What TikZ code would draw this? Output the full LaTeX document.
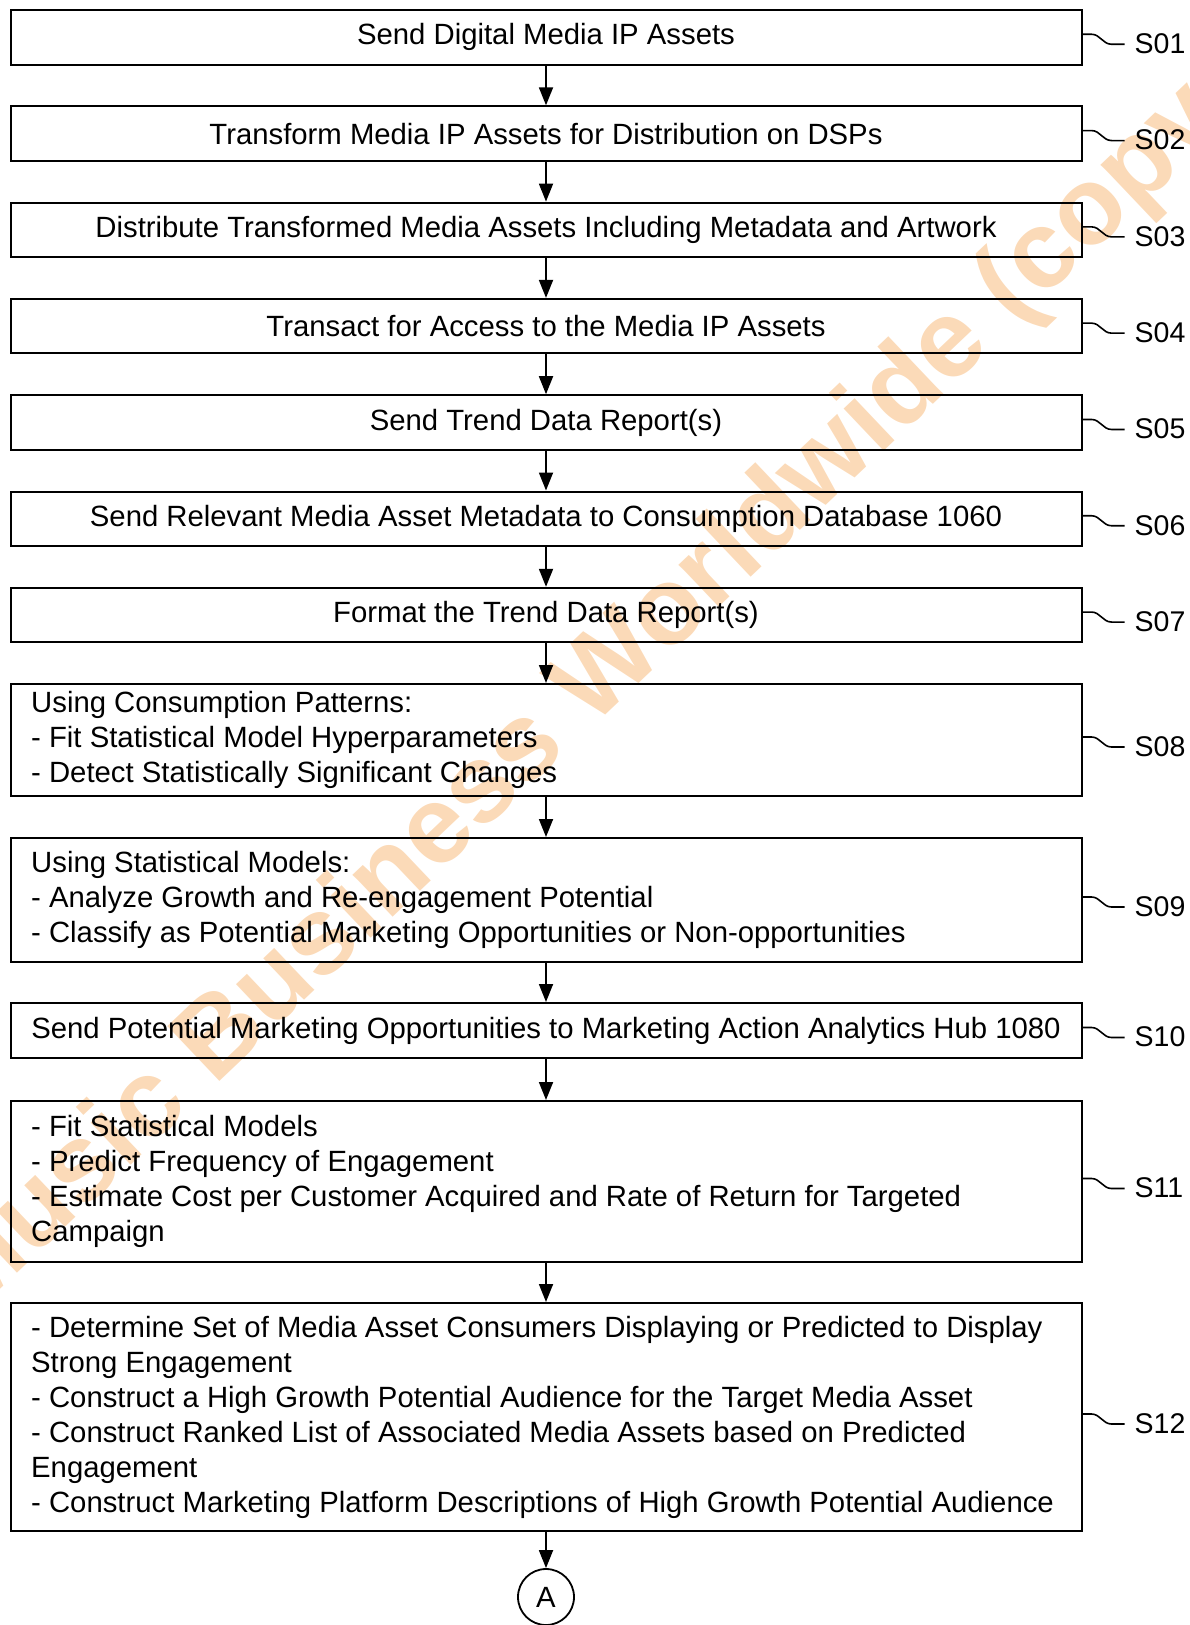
\documentclass[tikz,border=0pt]{standalone}
\usepackage{fontspec}
\setmainfont{Liberation Sans}
\usetikzlibrary{arrows.meta}
\definecolor{wmorange}{RGB}{251,218,184}
\begin{document}
\begin{tikzpicture}[x=1pt,y=1pt,
  stepbox/.style={draw, line width=2pt, minimum width=1071pt, inner sep=0pt,
    font=\fontsize{29.3}{35}\selectfont},
  txt/.style={align=left, inner sep=0pt, font=\fontsize{29.3}{35}\selectfont},
  flow/.style={line width=1.8pt, -{Triangle[length=18pt,width=14pt]}},
  squig/.style={line width=1.6pt},
  lbl/.style={inner sep=0pt, font=\fontsize{28.5}{34}\selectfont},
  wm/.style={inner sep=0pt, text=wmorange, font=\fontsize{110}{132}\selectfont\bfseries},
  conn/.style={draw, circle, line width=1.8pt, minimum size=56pt, inner sep=0pt,
    font=\fontsize{29.3}{35}\selectfont}]
\useasboundingbox (0,0) rectangle (1190,-1625);

% background watermark
\begin{scope}
  \clip (0,0) rectangle (1190,-1625);
  \node[wm, rotate=43.5, anchor=base west] (wmark) at (-34,-1322) {Music Business Worldwide (copy};
\end{scope}

% process steps
\node[stepbox, minimum height=54.5pt] (s01) at (546,-37.25) {Send Digital Media IP Assets};
\node[stepbox, minimum height=54.5pt] (s02) at (546,-133.55) {Transform Media IP Assets for Distribution on DSPs};
\node[stepbox, minimum height=54.5pt] (s03) at (546,-229.85) {Distribute Transformed Media Assets Including Metadata and Artwork};
\node[stepbox, minimum height=54.5pt] (s04) at (546,-326.15) {Transact for Access to the Media IP Assets};
\node[stepbox, minimum height=54.5pt] (s05) at (546,-422.45) {Send Trend Data Report(s)};
\node[stepbox, minimum height=54.5pt] (s06) at (546,-518.75) {Send Relevant Media Asset Metadata to Consumption Database 1060};
\node[stepbox, minimum height=54.5pt] (s07) at (546,-615.05) {Format the Trend Data Report(s)};
\node[stepbox, minimum height=112pt] (s08) at (546,-740) {};
\node[stepbox, minimum height=124pt] (s09) at (546,-900) {};
\node[stepbox, minimum height=55pt] (s10) at (546,-1030.5) {Send Potential Marketing Opportunities to Marketing Action Analytics Hub 1080};
\node[stepbox, minimum height=161pt] (s11) at (546,-1181.5) {};
\node[stepbox, minimum height=228pt] (s12) at (546,-1417) {};
\node[conn] (a) at (546,-1597) {A};

% multi-line step texts
\node[txt, anchor=west] (t08) at ([xshift=21.5pt]s08.west)
  {Using Consumption Patterns:\\- Fit Statistical Model Hyperparameters\\- Detect Statistically Significant Changes};
\node[txt, anchor=west] (t09) at ([xshift=21.5pt]s09.west)
  {Using Statistical Models:\\- Analyze Growth and Re-engagement Potential\\- Classify as Potential Marketing Opportunities or Non-opportunities};
\node[txt, anchor=west] (t11) at ([xshift=21.5pt]s11.west)
  {- Fit Statistical Models\\- Predict Frequency of Engagement\\- Estimate Cost per Customer Acquired and Rate of Return for Targeted\\Campaign};
\node[txt, anchor=west] (t12) at ([xshift=21.5pt]s12.west)
  {- Determine Set of Media Asset Consumers Displaying or Predicted to Display\\Strong Engagement\\- Construct a High Growth Potential Audience for the Target Media Asset\\- Construct Ranked List of Associated Media Assets based on Predicted\\Engagement\\- Construct Marketing Platform Descriptions of High Growth Potential Audience};

% flow arrows
\foreach \u/\v in {s01/s02,s02/s03,s03/s04,s04/s05,s05/s06,s06/s07,s07/s08,s08/s09,s09/s10,s10/s11,s11/s12,s12/a}
  \draw[flow] (\u) -- (\v);

% step reference labels
\foreach \s/\n in {s01/S01,s02/S02,s03/S03,s04/S04,s05/S05,s06/S06,s07/S07,s08/S08,s09/S09,s10/S10,s11/S11,s12/S12}{
  \draw[squig] ([yshift=3pt]\s.east) -- ++(9,0) to[out=0,in=180] ++(20,-10) -- ++(13,0) coordinate (q\s);
  \node[lbl, anchor=west] (l\s) at ([xshift=10pt,yshift=0.5pt]q\s) {\n};
}
\end{tikzpicture}
\end{document}
